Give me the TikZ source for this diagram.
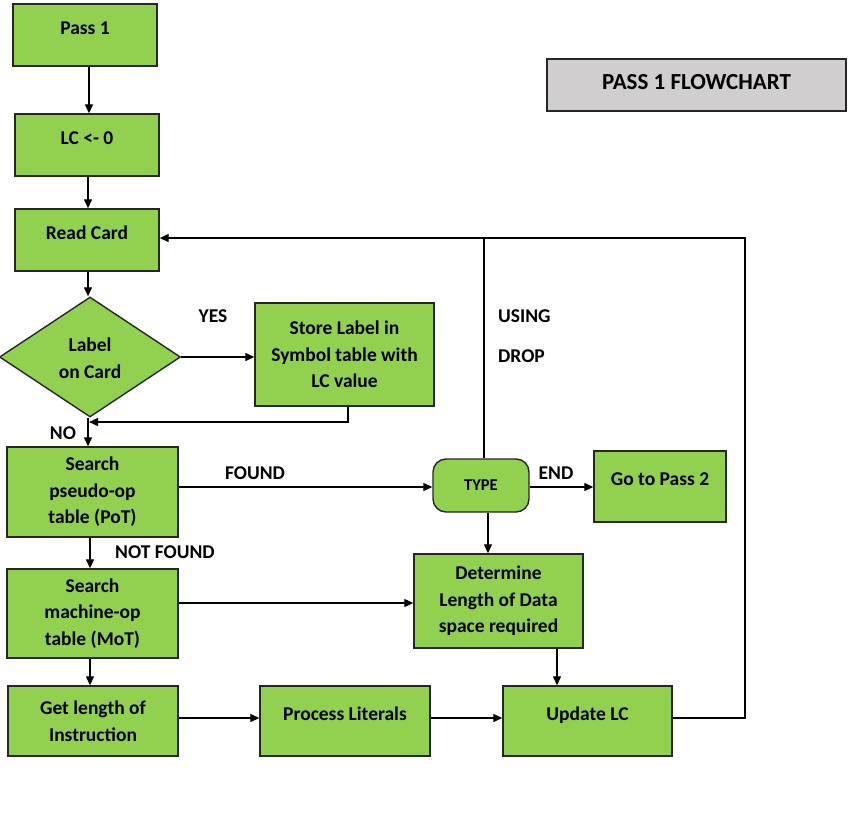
\documentclass[tikz,border=0pt]{standalone}
\usepackage{fontspec}
\setmainfont{Carlito}
\usetikzlibrary{shapes.geometric,arrows.meta,calc}
\definecolor{boxgreen}{HTML}{92D050}
\definecolor{titlegrey}{HTML}{D0CECE}
\definecolor{edge}{HTML}{262626}
\begin{document}
\begin{tikzpicture}[x=1pt,y=-1pt,
  every node/.style={font=\bfseries\fontsize{19.5}{26.5}\selectfont, text=black},
  box/.style={draw=edge, line width=1.4pt, fill=boxgreen, align=center, inner sep=0pt},
  single/.style={text height=14pt, text depth=16pt},
  decide/.style={draw=edge, line width=1.4pt, fill=boxgreen, diamond, inner sep=0pt, minimum width=181pt, minimum height=120pt},
  lbl/.style={inner sep=0pt},
  conn/.style={draw=black, line width=1.3pt},
  arr/.style={conn, -{Triangle[length=9pt,width=8pt]}}
]
\useasboundingbox (0,0) rectangle (862,822);

% nodes
\node[box, single, minimum width=144pt, minimum height=62pt] (pass1) at (85,35) {Pass 1};
\node[box, single, minimum width=144pt, minimum height=62pt] (lc) at (87,145) {LC <- 0};
\node[box, single, minimum width=144pt, minimum height=62pt] (read) at (87,240) {Read Card};
\node[decide] (dia) at (90,357) {\smash{\raisebox{-8pt}{\begin{tabular}{@{}c@{}}Label\\on Card\end{tabular}}}};
\node[box, minimum width=179pt, minimum height=103pt] (store) at (344.5,354.5) {Store Label in\\Symbol table with\\LC value};
\node[box, minimum width=171pt, minimum height=90pt] (pot) at (92.5,492) {Search\\pseudo-op\\table (PoT)};
\node[box, minimum width=171pt, minimum height=89pt] (mot) at (92.5,613.5) {Search\\machine-op\\table (MoT)};
\node[box, minimum width=170pt, minimum height=70pt] (getlen) at (93,721) {Get length of\\Instruction};
\node[box, single, minimum width=170pt, minimum height=70pt] (proc) at (345,721) {Process Literals};
\node[box, single, minimum width=169pt, minimum height=70pt] (upd) at (587.5,721) {Update LC};
\node[box, rounded corners=13pt, minimum width=96pt, minimum height=53pt, font=\bfseries\fontsize{16.5}{20}\selectfont] (type) at (481,485.5) {TYPE};
\node[box, single, minimum width=132pt, minimum height=71pt] (gop2) at (660,486.5) {Go to Pass 2};
\node[box, minimum width=169pt, minimum height=94pt] (det) at (498.5,601) {Determine\\Length of Data\\space required};
\node[draw=edge, line width=1.4pt, fill=titlegrey, minimum width=299pt, minimum height=52pt, inner sep=0pt, text height=16pt, text depth=8pt, font=\bfseries\fontsize{23}{26}\selectfont] (title) at (696.5,85) {PASS 1 FLOWCHART};

% labels
\node[lbl] (yes) at (213,316) {YES};
\node[lbl] (no) at (63,433) {NO};
\node[lbl] (found) at (255,473) {FOUND};
\node[lbl] (notfound) at (165,552) {NOT FOUND};
\node[lbl] (endl) at (556,473) {END};
\node[lbl, anchor=west] (using) at (498,316) {USING};
\node[lbl, anchor=west] (drop) at (498,356) {DROP};

% helper coordinates
\coordinate (c1) at (89,0);
\coordinate (c2) at (88,0);
\coordinate (c3) at (90,0);
\coordinate (join) at (89,422);
\coordinate (sx) at (348,0);
\coordinate (loop) at (745,238);
\coordinate (ux) at (484,238);
\coordinate (tx) at (488,0);
\coordinate (dx) at (557,0);
\coordinate (ly) at (0,718);
\coordinate (my) at (0,603);
\coordinate (fy) at (0,487);

% connectors
\draw[arr] (pass1.south -| c1) -- (lc.north -| c1);
\draw[arr] (lc.south -| c2) -- (read.north -| c2);
\draw[arr] (read.south -| c2) -- (dia.north -| c2);
\draw[arr] (dia.east) -- (store.west |- dia.east);
\draw[arr] (dia.south -| c2) -- (pot.north -| c2);
\draw[arr] (store.south -| sx) |- (join);
\draw[arr] (pot.south -| c3) -- (mot.north -| c3);
\draw[arr] (mot.south -| c3) -- (getlen.north -| c3);
\draw[arr] (pot.east |- fy) -- (type.west |- fy);
\draw[arr] (type.east |- fy) -- (gop2.west |- fy);
\draw[conn] (type.north -| ux) -- (ux);
\draw[arr] (upd.east |- ly) -| (loop) -- (read.east |- loop);
\draw[arr] (type.south -| tx) -- (det.north -| tx);
\draw[arr] (mot.east |- my) -- (det.west |- my);
\draw[arr] (det.south -| dx) -- (upd.north -| dx);
\draw[arr] (getlen.east |- ly) -- (proc.west |- ly);
\draw[arr] (proc.east |- ly) -- (upd.west |- ly);
\end{tikzpicture}
\end{document}
